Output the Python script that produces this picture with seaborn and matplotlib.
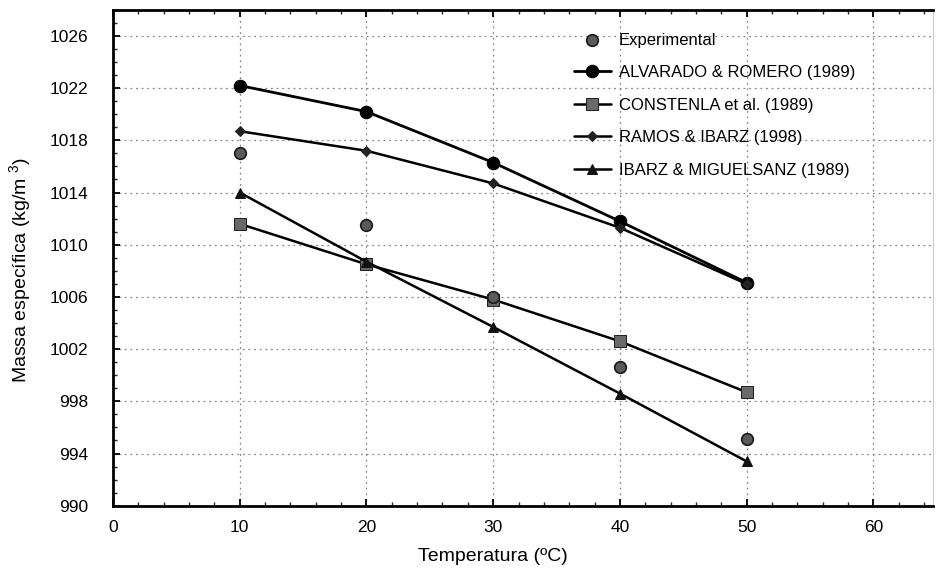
import matplotlib
matplotlib.use("Agg")
import matplotlib.pyplot as plt
import seaborn as sns
import pandas as pd
from matplotlib.ticker import MultipleLocator

# Temperatures (ºC) and specific mass (kg/m3)
temperatura = [10, 20, 30, 40, 50]
experimental = [1017.0, 1011.5, 1006.0, 1000.6, 995.1]
alvarado_romero = [1022.2, 1020.2, 1016.3, 1011.8, 1007.1]
constenla = [1011.6, 1008.5, 1005.8, 1002.6, 998.7]
ramos_ibarz = [1018.7, 1017.2, 1014.7, 1011.3, 1007.0]
ibarz_miguelsanz = [1014.0, 1008.7, 1003.7, 998.6, 993.4]

x_ticks = [0, 10, 20, 30, 40, 50, 60]
y_ticks = [990, 994, 998, 1002, 1006, 1010, 1014, 1018, 1022, 1026]

sns.set_theme(style="white")
plt.rcParams["font.family"] = ["Liberation Sans", "DejaVu Sans"]
plt.rcParams["mathtext.fontset"] = "custom"
plt.rcParams["mathtext.rm"] = "Liberation Sans"
plt.rcParams["mathtext.it"] = "Liberation Sans"
plt.rcParams["text.color"] = "black"
plt.rcParams["axes.labelcolor"] = "black"

df = pd.DataFrame({
    "T": temperatura,
    "Experimental": experimental,
    "ALVARADO & ROMERO (1989)": alvarado_romero,
    "CONSTENLA et al. (1989)": constenla,
    "RAMOS & IBARZ (1998)": ramos_ibarz,
    "IBARZ & MIGUELSANZ (1989)": ibarz_miguelsanz,
})

fig = plt.figure(figsize=(9.38, 5.78), dpi=100)
ax = fig.add_axes([0.1205, 0.125, 0.874, 0.858])

sns.scatterplot(data=df, x="T", y="Experimental", ax=ax, marker="o", s=70,
                color="#5a5a5a", edgecolor="#1a1a1a", linewidth=1.2,
                label="Experimental", zorder=4)
sns.lineplot(data=df, x="T", y="ALVARADO & ROMERO (1989)", ax=ax, color="black",
             lw=2.0, marker="o", markersize=9, markerfacecolor="black",
             markeredgecolor="black", label="ALVARADO & ROMERO (1989)", zorder=3)
sns.lineplot(data=df, x="T", y="CONSTENLA et al. (1989)", ax=ax, color="black",
             lw=1.8, marker="s", markersize=8, markerfacecolor="#6a6a6a",
             markeredgecolor="#222222", label="CONSTENLA et al. (1989)", zorder=3)
sns.lineplot(data=df, x="T", y="RAMOS & IBARZ (1998)", ax=ax, color="black",
             lw=1.8, marker="D", markersize=5.5, markerfacecolor="#222222",
             markeredgecolor="#222222", label="RAMOS & IBARZ (1998)", zorder=3)
sns.lineplot(data=df, x="T", y="IBARZ & MIGUELSANZ (1989)", ax=ax, color="black",
             lw=1.8, marker="^", markersize=7.5, markerfacecolor="#111111",
             markeredgecolor="#111111", label="IBARZ & MIGUELSANZ (1989)", zorder=3)

ax.set_xlim(0, 64.7)
ax.set_ylim(990, 1028.0)
ax.set_xticks(x_ticks)
ax.set_yticks(y_ticks)
ax.xaxis.set_minor_locator(MultipleLocator(2))
ax.yaxis.set_minor_locator(MultipleLocator(1))
ax.tick_params(axis="both", which="major", direction="in", length=5, width=1.3,
               labelsize=12.5, colors="black", top=True, bottom=True, left=True)
ax.tick_params(axis="both", which="minor", direction="in", length=3, width=1.0,
               top=True, bottom=True, left=True)
ax.tick_params(axis="x", pad=10)
ax.tick_params(axis="y", pad=18)

ax.grid(True, which="major", linestyle=(0, (1.5, 3)), color="#888888", lw=0.9)

for side in ["left", "top", "bottom"]:
    ax.spines[side].set_visible(True)
    ax.spines[side].set_color("black")
    ax.spines[side].set_linewidth(2.0)
ax.spines["right"].set_visible(True)
ax.spines["right"].set_color("#cccccc")
ax.spines["right"].set_linewidth(0.8)

ax.set_xlabel("Temperatura (ºC)", fontsize=14)
ax.set_ylabel(r"Massa específica (kg/m $^{3}$)", fontsize=14)
ax.xaxis.set_label_coords(0.463, -0.085)
ax.yaxis.set_label_coords(-0.098, 0.476)

leg = ax.legend(loc="upper left", bbox_to_anchor=(0.55, 0.974), frameon=False,
                fontsize=12, handlelength=2.2, handletextpad=0.5,
                labelspacing=1.05, borderaxespad=0.2)
for t in leg.get_texts():
    t.set_color("black")

fig.savefig("out.png", dpi=100, facecolor="white")
